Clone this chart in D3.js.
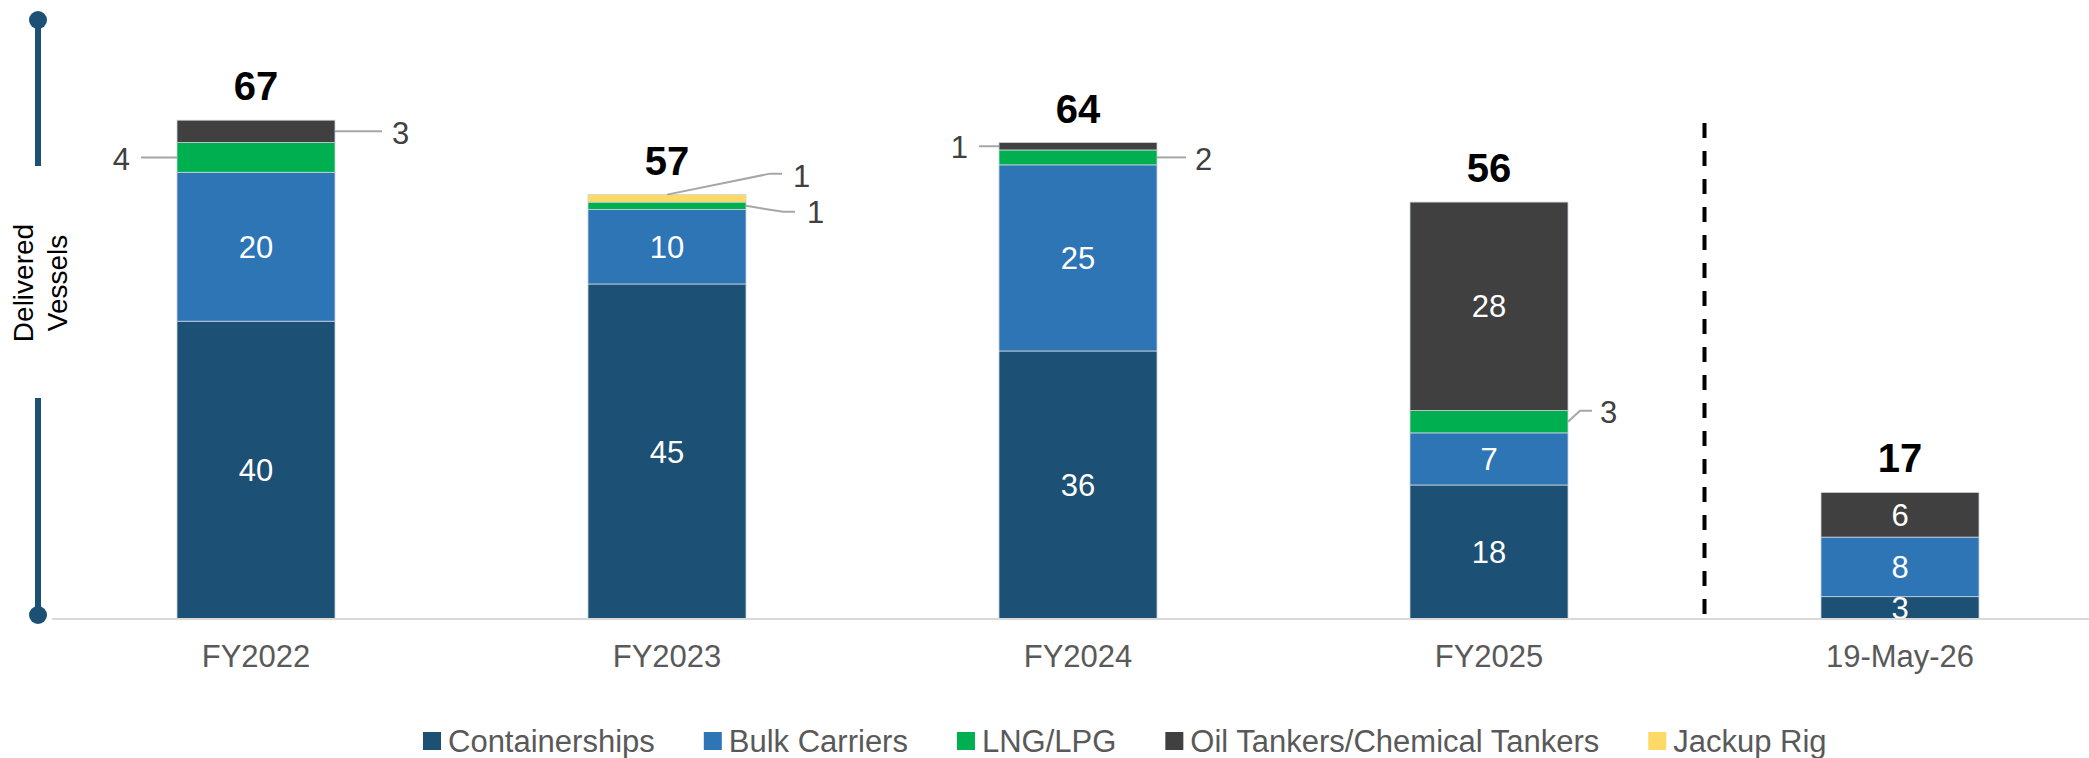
<!DOCTYPE html>
<html>
<head>
<meta charset="utf-8">
<script src="https://cdn.jsdelivr.net/npm/d3@7/dist/d3.min.js"></script>
<style>
  html, body { margin: 0; padding: 0; background: #ffffff; }
  svg { display: block; }
  text { font-family: "Liberation Sans", Arial, Helvetica, sans-serif; }
</style>
</head>
<body>
<svg id="chart" width="2089" height="758"></svg>
<script>
// ---------- DATA ----------
const categories = ["FY2022", "FY2023", "FY2024", "FY2025", "19-May-26"];
const seriesNames = ["Containerships", "Bulk Carriers", "LNG/LPG", "Oil Tankers/Chemical Tankers", "Jackup Rig"];
const containerships = [40, 45, 36, 18, 3];
const bulkCarriers   = [20, 10, 25, 7, 8];
const lngLpg         = [4, 1, 2, 3, 0];
const oilTankers     = [3, 0, 1, 28, 6];
const jackupRig      = [0, 1, 0, 0, 0];
const axisTitle = ["Delivered", "Vessels"];

// ---------- STYLE / LAYOUT ----------
const colors = {
  "Containerships": "#1c5074",
  "Bulk Carriers": "#2e75b6",
  "LNG/LPG": "#00b050",
  "Oil Tankers/Chemical Tankers": "#404040",
  "Jackup Rig": "#ffd966"
};

// callouts for small segments (label layout only)
const callouts = [
  { cat: "FY2022", key: "LNG/LPG", anchor: "left",  path: [[0,0],[-36,0]], label: [-47,1], align: "end" },
  { cat: "FY2022", key: "Oil Tankers/Chemical Tankers", anchor: "right", path: [[0,0],[47,0]], label: [57,1], align: "start" },
  { cat: "FY2023", key: "Jackup Rig", anchor: "top", path: [[0,0],[103,-21],[115,-21]], label: [126,-19], align: "start" },
  { cat: "FY2023", key: "LNG/LPG", anchor: "right", path: [[0,0],[37,6],[49,6]], label: [61,6], align: "start" },
  { cat: "FY2024", key: "Oil Tankers/Chemical Tankers", anchor: "left", path: [[0,0],[-20,0]], label: [-31,1], align: "end" },
  { cat: "FY2024", key: "LNG/LPG", anchor: "right", path: [[0,0],[29,0]], label: [38,1], align: "start" },
  { cat: "FY2025", key: "LNG/LPG", anchor: "right", path: [[0,0],[12,-11],[24,-11]], label: [32,-10], align: "start" }
];

const seriesValues = {
  "Containerships": containerships,
  "Bulk Carriers": bulkCarriers,
  "LNG/LPG": lngLpg,
  "Oil Tankers/Chemical Tankers": oilTankers,
  "Jackup Rig": jackupRig
};

const table = categories.map((c, i) => {
  const row = { cat: c };
  seriesNames.forEach(s => row[s] = seriesValues[s][i]);
  row.total = seriesNames.reduce((a, s) => a + row[s], 0);
  return row;
});

const svg = d3.select("#chart");
const baseY = 619;

const x = d3.scaleBand()
  .domain(categories)
  .range([50.5, 2105.5])
  .paddingInner(0.6156)
  .paddingOuter(0.3078);

const y = d3.scaleLinear()
  .domain([0, 80])
  .range([baseY, baseY - 80 * 7.445]);

const stack = d3.stack().keys(seriesNames);
const stacked = stack(table);

// ---------- BARS ----------
const gBars = svg.append("g");
stacked.forEach(layer => {
  gBars.selectAll(null)
    .data(layer.filter(d => d[1] - d[0] > 0))
    .join("rect")
    .attr("x", d => x(d.data.cat))
    .attr("width", x.bandwidth())
    .attr("y", d => y(d[1]))
    .attr("height", d => y(d[0]) - y(d[1]))
    .attr("fill", colors[layer.key])
    .attr("stroke", "#c9d3dc")
    .attr("stroke-width", 0.8);
});

// ---------- INSIDE LABELS ----------
const calloutKey = new Set(callouts.map(c => c.cat + "|" + c.key));
stacked.forEach(layer => {
  svg.append("g").selectAll(null)
    .data(layer.filter(d => d[1] - d[0] > 0 && !calloutKey.has(d.data.cat + "|" + layer.key)))
    .join("text")
    .attr("x", d => x(d.data.cat) + x.bandwidth() / 2)
    .attr("y", d => (y(d[0]) + y(d[1])) / 2)
    .attr("dy", "0.36em")
    .attr("text-anchor", "middle")
    .attr("font-size", 31)
    .attr("fill", "#ffffff")
    .text(d => d[1] - d[0]);
});

// ---------- CALLOUTS ----------
const gCall = svg.append("g");
callouts.forEach(c => {
  const layer = stacked.find(l => l.key === c.key);
  const d = layer.find(v => v.data.cat === c.cat);
  const x0 = x(c.cat), x1 = x0 + x.bandwidth();
  const yc = (y(d[0]) + y(d[1])) / 2;
  let ax, ay;
  if (c.anchor === "left") { ax = x0; ay = yc; }
  else if (c.anchor === "right") { ax = x1; ay = yc; }
  else { ax = x0 + x.bandwidth() / 2; ay = y(d[1]); }
  gCall.append("path")
    .attr("d", d3.line()(c.path.map(p => [ax + p[0], ay + p[1]])))
    .attr("fill", "none")
    .attr("stroke", "#a6a6a6")
    .attr("stroke-width", 2);
  gCall.append("text")
    .attr("x", ax + c.label[0])
    .attr("y", ay + c.label[1])
    .attr("dy", "0.36em")
    .attr("text-anchor", c.align)
    .attr("font-size", 31)
    .attr("fill", "#404040")
    .text(d[1] - d[0]);
});

// ---------- TOTALS ----------
svg.append("g").selectAll(null)
  .data(table)
  .join("text")
  .attr("x", d => x(d.cat) + x.bandwidth() / 2)
  .attr("y", d => y(d.total) - 20)
  .attr("text-anchor", "middle")
  .attr("font-size", 40)
  .attr("font-weight", "bold")
  .attr("fill", "#000000")
  .text(d => d.total);

// ---------- X AXIS ----------
const xAxis = d3.axisBottom(x).tickSize(0).tickPadding(0);
const gx = svg.append("g").attr("transform", `translate(0,${baseY})`).call(xAxis);
gx.select(".domain").remove();
gx.selectAll("text")
  .attr("y", 48)
  .attr("dy", 0)
  .attr("font-size", 31)
  .attr("font-family", "\"Liberation Sans\", Arial, sans-serif")
  .attr("fill", "#595959");

svg.append("line")
  .attr("x1", 52).attr("x2", 2089)
  .attr("y1", baseY).attr("y2", baseY)
  .attr("stroke", "#d9d9d9")
  .attr("stroke-width", 2);

// ---------- DASHED SEPARATOR ----------
const sepX = (x("FY2025") + x("19-May-26")) / 2 + x.bandwidth() / 2 + 10;
svg.append("line")
  .attr("x1", sepX).attr("x2", sepX)
  .attr("y1", 123).attr("y2", 616)
  .attr("stroke", "#000000")
  .attr("stroke-width", 4)
  .attr("stroke-dasharray", "15,13");

// ---------- Y AXIS DECORATION ----------
const axisColor = "#1c5074";
const gy = svg.append("g");
gy.append("line").attr("x1", 38).attr("x2", 38).attr("y1", 20).attr("y2", 166)
  .attr("stroke", axisColor).attr("stroke-width", 6);
gy.append("line").attr("x1", 38).attr("x2", 38).attr("y1", 398).attr("y2", 615)
  .attr("stroke", axisColor).attr("stroke-width", 6);
gy.append("circle").attr("cx", 38).attr("cy", 20).attr("r", 9).attr("fill", axisColor);
gy.append("circle").attr("cx", 38).attr("cy", 615).attr("r", 9).attr("fill", axisColor);

const title = gy.append("text")
  .attr("transform", "translate(33,283) rotate(-90)")
  .attr("text-anchor", "middle")
  .attr("font-size", 28)
  .attr("fill", "#000000");
title.append("tspan").attr("x", 0).attr("y", 0).text(axisTitle[0]);
title.append("tspan").attr("x", 0).attr("y", 34).text(axisTitle[1]);

// ---------- LEGEND ----------
const legend = svg.append("g").attr("transform", "translate(423,741)");
let lx = 0;
seriesNames.forEach(s => {
  const g = legend.append("g").attr("transform", `translate(${lx},0)`);
  g.append("rect").attr("x", 0).attr("y", -9).attr("width", 18).attr("height", 18).attr("fill", colors[s]);
  const t = g.append("text")
    .attr("x", 25).attr("y", 0).attr("dy", "0.36em")
    .attr("font-size", 31).attr("fill", "#595959").text(s);
  const w = t.node().getComputedTextLength();
  lx += 25 + w + 49;
});
</script>
</body>
</html>
